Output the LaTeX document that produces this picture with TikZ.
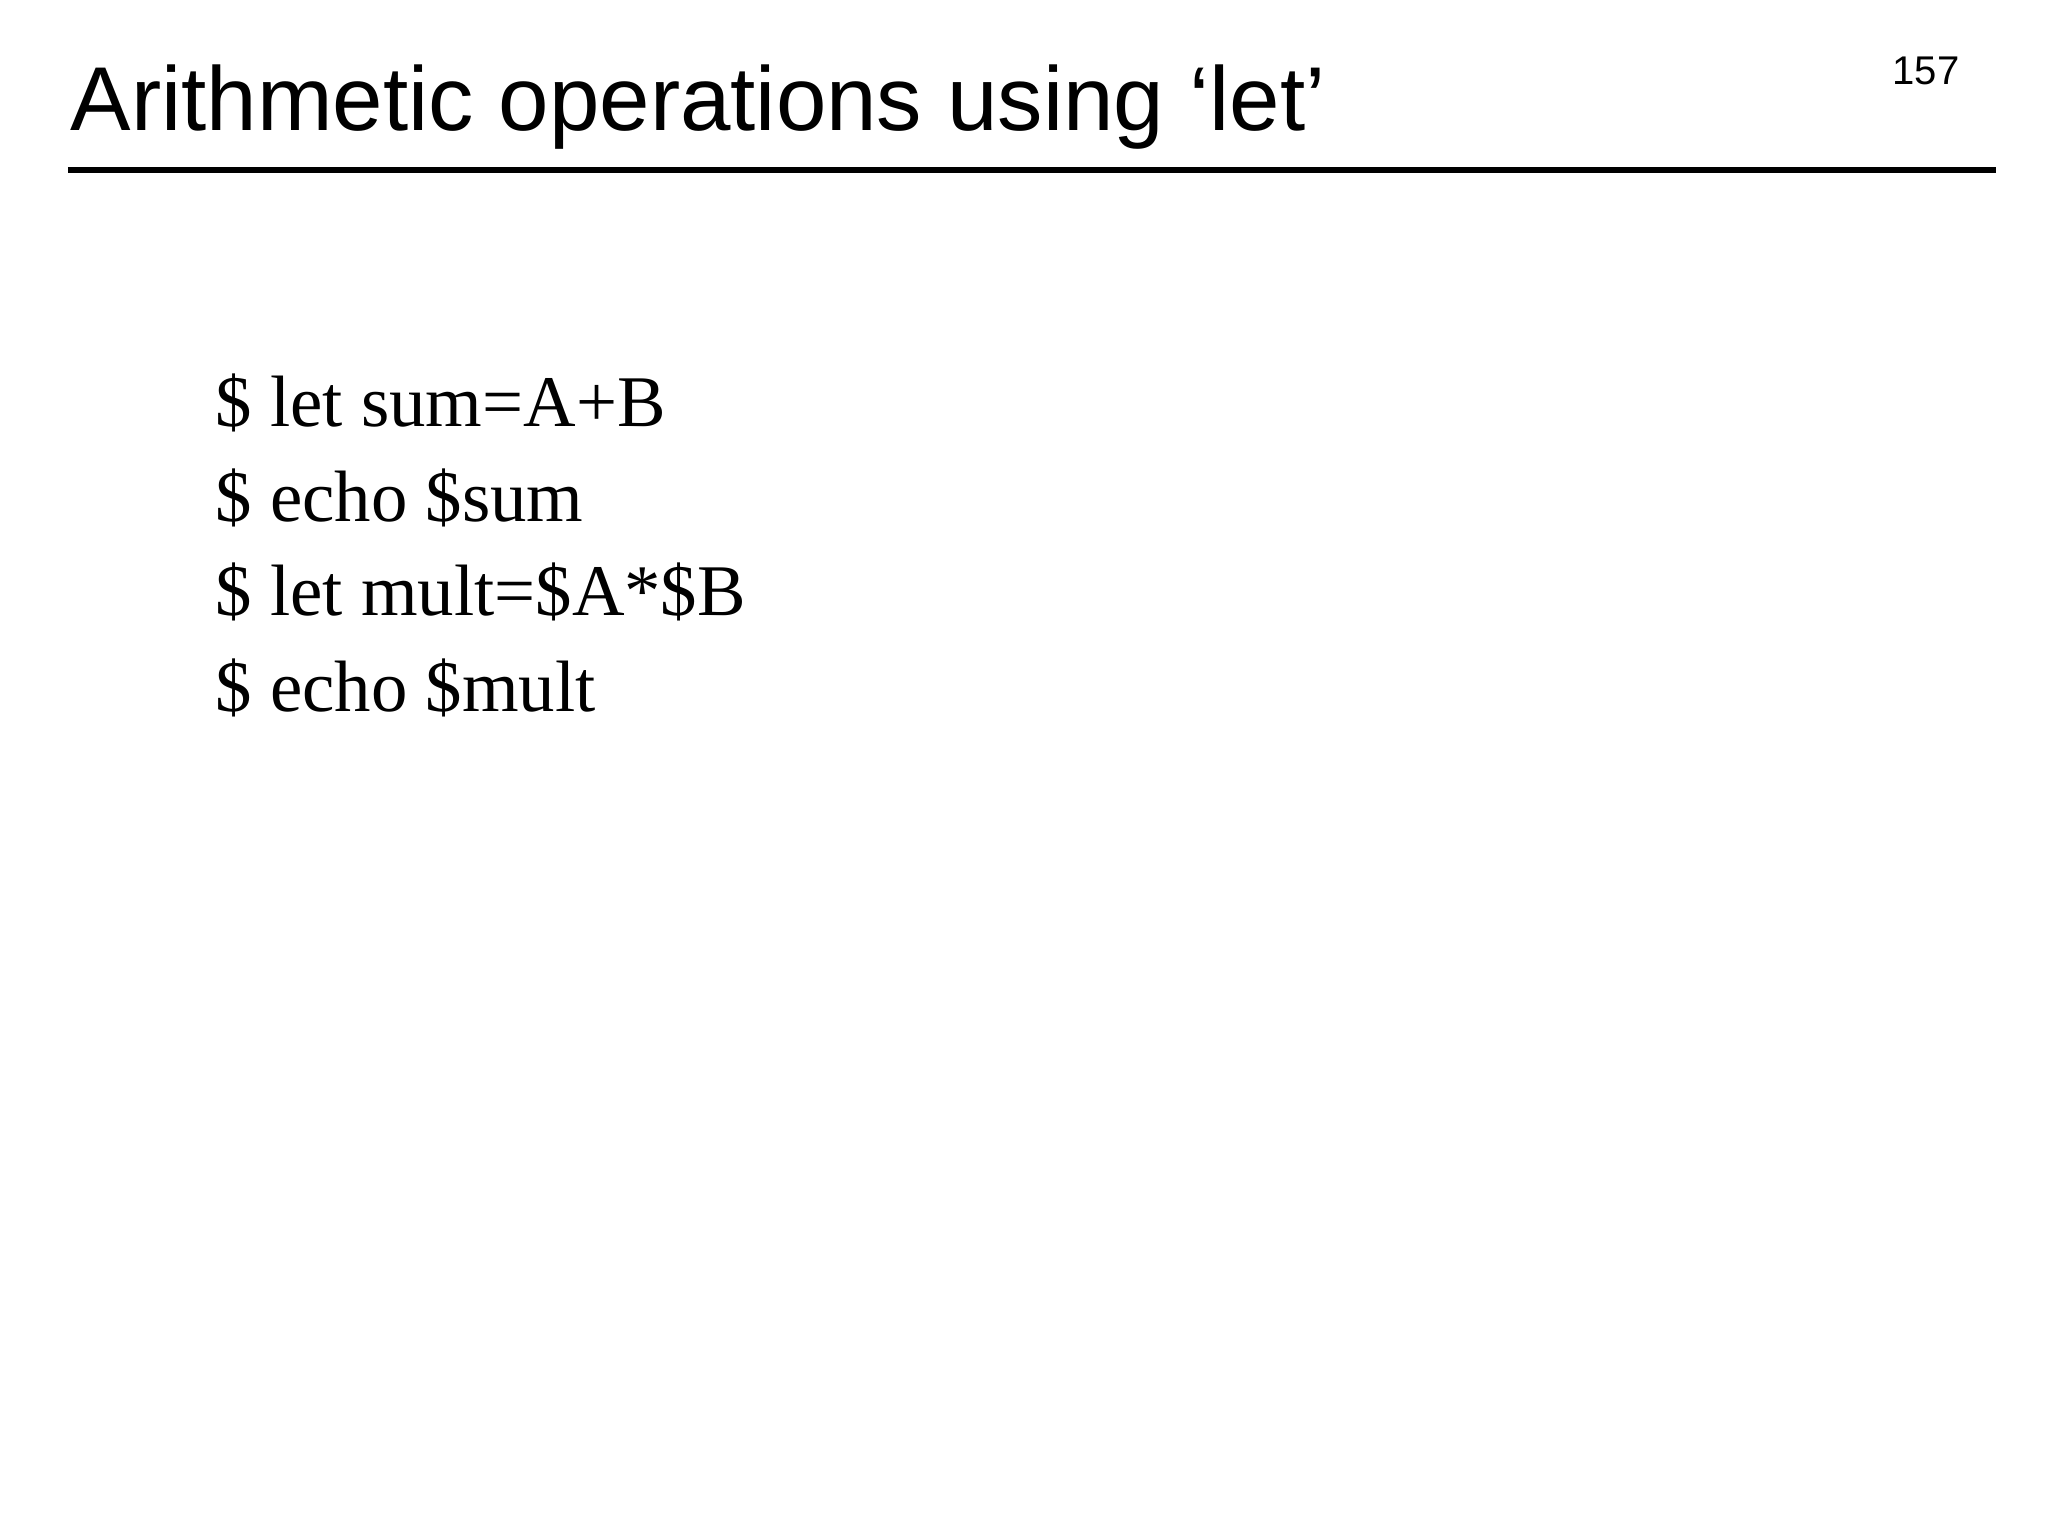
\documentclass[tikz,border=0pt]{standalone}
\usepackage{fontspec}
\setmainfont{Liberation Serif}
\newfontfamily\sansf{Liberation Sans}
\begin{document}
\begin{tikzpicture}[x=1cm,y=1cm,
  body/.style={anchor=base west,inner sep=0pt,font=\fontsize{20.7pt}{24pt}\selectfont}]
\useasboundingbox[fill=white] (0,0) rectangle (20.48,-15.36);
\node[anchor=base west,inner sep=0pt,font=\sansf\fontsize{25.8pt}{30pt}\selectfont] (title) at (0.70,-1.31) {Arithmetic operations using ‘let’};
\node[anchor=base east,inner sep=0pt,font=\sansf\fontsize{11.4pt}{14pt}\selectfont] (page) at (19.60,-0.85) {157};
\draw[line width=0.065cm] (0.68,-1.70) -- (19.96,-1.70);
\node[body] (l1) at (2.15,-4.27) {\$ let sum=A+B};
\node[body] (l2) at (2.15,-5.22) {\$ echo \$sum};
\node[body] (l3) at (2.15,-6.16) {\$ let mult=\$A*\$B};
\node[body] (l4) at (2.15,-7.12) {\$ echo \$mult};
\end{tikzpicture}
\end{document}
